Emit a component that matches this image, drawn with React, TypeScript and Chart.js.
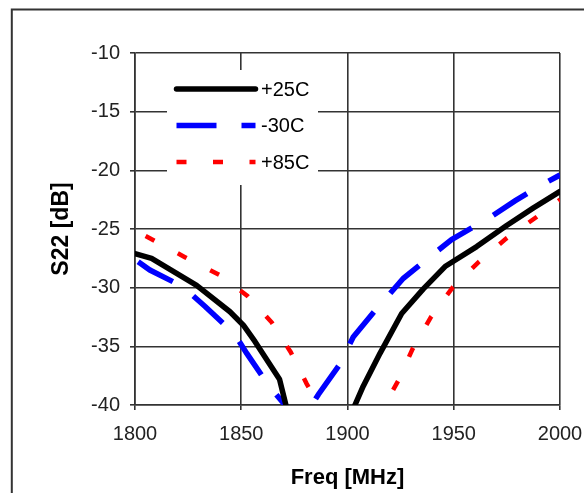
import React, { useEffect, useRef } from "react";
import { Chart, registerables } from "chart.js";

Chart.register(...registerables);

const FONT = "'Liberation Sans', Arial, sans-serif";

// ---- data ----
const seriesLabels = ["+25C", "-30C", "+85C"];

const freq25 = [1800, 1807.8, 1829, 1844.7, 1851, 1856.5, 1868, 1870.6, 1875, 1900, 1903.5, 1907.4, 1915.3, 1925.5, 1935.7, 1945.9, 1960.8, 1974.9, 1987.5, 2000];
const s22_25 = [-27.1, -27.5, -29.8, -32.05, -33.2, -34.6, -37.8, -39.7, -43, -42, -40, -38.4, -35.6, -32.2, -30.1, -28.2, -26.5, -24.7, -23.2, -21.8];

const freqM30 = [1801.5, 1807, 1818, 1827.4, 1833, 1842.4, 1846.3, 1852.6, 1862.7, 1870.6, 1878, 1886.3, 1896.5, 1902.7, 1913.7, 1926.3, 1937.6, 1949, 1966.3, 1978.8, 1989.8, 2000];
const s22_M30 = [-27.8, -28.5, -29.5, -30.7, -31.6, -33.2, -33.8, -35.6, -38.3, -40.0, -41.5, -39.1, -36.5, -34.2, -31.8, -29.2, -27.55, -25.9, -24.1, -22.6, -21.4, -20.4];

const freqP85 = [1805, 1823.5, 1839.6, 1852.9, 1864.3, 1873.3, 1880.8, 1902, 1923.8, 1930.6, 1939.3, 1949.4, 1961.8, 1974.8, 1988.8, 2000];
const s22_P85 = [-25.6, -27.4, -28.9, -30.7, -32.95, -35.5, -38.2, -45, -37.95, -35.24, -32.5, -30.0, -27.8, -25.8, -24.0, -22.5];

const xMin = 1800;
const xMax = 2000;
const xStep = 50;
const yMin = -40;
const yMax = -10;
const yStep = 5;

const toPoints = (xs: number[], ys: number[]) => xs.map((x, i) => ({ x, y: ys[i] }));

const GRID = "#333";

const framePlugin = {
  id: "frame",
  beforeDraw(chart: any) {
    const { ctx, width, height } = chart;
    ctx.save();
    ctx.fillStyle = "#fff";
    ctx.fillRect(0, 0, width, height);
    ctx.strokeStyle = "#333";
    ctx.lineWidth = 2;
    ctx.beginPath();
    ctx.moveTo(11.8, height);
    ctx.lineTo(11.8, 9.5);
    ctx.lineTo(width, 9.5);
    ctx.stroke();
    ctx.restore();
  },
};

const insideLegend = {
  id: "insideLegend",
  beforeDatasetsDraw(chart: any) {
    const { ctx, chartArea: a } = chart;
    ctx.save();
    ctx.fillStyle = "#fff";
    ctx.fillRect(a.left + 32, a.top + 17, 151, 115);
    ctx.restore();
  },
  afterDatasetsDraw(chart: any) {
    const { ctx, chartArea: a } = chart;
    chart.data.datasets.forEach((ds: any, i: number) => {
      const y = a.top + 36 + i * 36.5;
      ctx.save();
      ctx.strokeStyle = ds.borderColor;
      ctx.lineWidth = ds.borderWidth;
      ctx.lineCap = ds.borderDash && ds.borderDash.length ? "butt" : "round";
      ctx.setLineDash(ds.borderDash || []);
      ctx.beginPath();
      ctx.moveTo(a.left + 41.5, y);
      ctx.lineTo(a.left + 120.5, y);
      ctx.stroke();
      ctx.setLineDash([]);
      ctx.fillStyle = "#000";
      ctx.font = `20px ${FONT}`;
      ctx.textBaseline = "middle";
      ctx.textAlign = "left";
      ctx.fillText(ds.label, a.left + 126, y + 1);
      ctx.restore();
    });
  },
};

export default function App() {
  const ref = useRef<HTMLCanvasElement | null>(null);

  useEffect(() => {
    if (!ref.current) return;
    const chart = new Chart(ref.current, {
      type: "line",
      data: {
        datasets: [
          {
            label: seriesLabels[0],
            data: toPoints(freq25, s22_25),
            borderColor: "#000000",
            borderWidth: 5.5,
            borderCapStyle: "round",
            borderJoinStyle: "round",
            pointRadius: 0,
            tension: 0,
            clip: 0,
          },
          {
            label: seriesLabels[1],
            data: toPoints(freqM30, s22_M30),
            borderColor: "#0000FF",
            borderWidth: 5.5,
            borderDash: [40, 25],
            borderCapStyle: "butt",
            pointRadius: 0,
            tension: 0,
            clip: 0,
          },
          {
            label: seriesLabels[2],
            data: toPoints(freqP85, s22_P85),
            borderColor: "#FF0000",
            borderWidth: 4.5,
            borderDash: [10, 26.5],
            borderCapStyle: "butt",
            pointRadius: 0,
            tension: 0,
            clip: 0,
          },
        ] as any,
      },
      options: {
        animation: false,
        responsive: false,
        layout: { padding: { left: 0, top: 53, right: 24, bottom: 0 } },
        plugins: {
          legend: { display: false },
          tooltip: { enabled: false },
        },
        scales: {
          x: {
            type: "linear",
            min: xMin,
            max: xMax,
            afterFit: (s: any) => {
              s.height = 88;
              s.paddingLeft = 0;
              s.paddingRight = 0;
            },
            ticks: {
              stepSize: xStep,
              autoSkip: false,
              maxRotation: 0,
              padding: 12,
              color: "#222",
              font: { family: FONT, size: 20 },
              callback: (v: any) => String(v),
            },
            grid: { color: GRID, lineWidth: 1.6, tickLength: 5, drawTicks: true },
            border: { color: GRID, width: 1.6 },
            title: {
              display: true,
              text: "Freq [MHz]",
              color: "#000",
              font: { family: FONT, size: 22, weight: "bold" },
              padding: { top: 0, bottom: 2 },
            },
          },
          y: {
            type: "linear",
            min: yMin,
            max: yMax,
            afterFit: (s: any) => {
              s.width = 135;
              s.paddingTop = 0;
              s.paddingBottom = 0;
            },
            ticks: {
              stepSize: yStep,
              padding: 10,
              color: "#222",
              font: { family: FONT, size: 20 },
              callback: (v: any) => String(v),
            },
            grid: { color: GRID, lineWidth: 1.6, tickLength: 5, drawTicks: true },
            border: { color: GRID, width: 1.6 },
            title: {
              display: true,
              text: "S22 [dB]",
              color: "#000",
              font: { family: FONT, size: 23, weight: "bold" },
              padding: { top: 48, bottom: 0 },
            },
          },
        },
      } as any,
      plugins: [framePlugin, insideLegend],
    });
    return () => chart.destroy();
  }, []);

  return (
    <div style={{ position: "fixed", left: 0, top: 0, width: 584, height: 493, background: "#fff" }}>
      <canvas ref={ref} width={584} height={493} style={{ display: "block", width: 584, height: 493 }} />
    </div>
  );
}
